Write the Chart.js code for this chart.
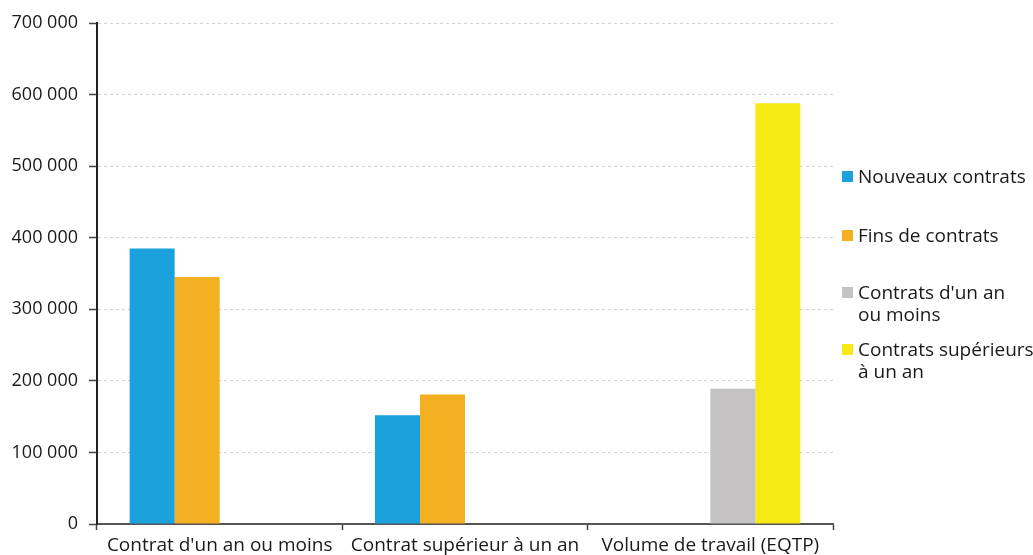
<!DOCTYPE html>
<html>
<head>
<meta charset="utf-8">
<script src="https://cdn.jsdelivr.net/npm/chart.js@4.4.0/dist/chart.umd.min.js"></script>
<style>
  html, body { margin: 0; padding: 0; background: #fff; }
  #wrap { position: relative; width: 1033px; height: 555px; }
  #legend { position: absolute; left: 0; top: 0; width: 1033px; height: 555px; pointer-events: none;
            font-family: "Open Sans", sans-serif; font-size: 19px; color: #1a1a1a; }
  .item { position: absolute; left: 842px; white-space: pre-line; line-height: 22px; }
  .item .box { position: absolute; left: 0; top: 6px; width: 11px; height: 11px; }
  .item .txt { position: absolute; left: 16px; top: 0; width: 190px; }
</style>
</head>
<body>
<div id="wrap">
  <canvas id="grafico" width="1033" height="555"></canvas>
  <div id="legend"></div>
</div>
<script>
// Données
var categories = ["Contrat d'un an ou moins", "Contrat supérieur à un an", "Volume de travail (EQTP)"];
var nouveaux = [385000, 152000, null];
var fins = [345000, 181000, null];
var courts = [null, null, 189000];
var longs = [null, null, 588000];
var seriesLabels = ["Nouveaux contrats", "Fins de contrats", "Contrats d'un an\nou moins", "Contrats supérieurs\nà un an"];
var yTicks = [0, 100000, 200000, 300000, 400000, 500000, 600000, 700000];

var colores = ['#1ba1db', '#f4b020', '#c4c2c3', '#f7e913'];
var series = [nouveaux, fins, courts, longs];

function formatNombre(v) {
    return String(v).replace(/\B(?=(\d{3})+(?!\d))/g, ' ');
}

var fuenteY = { family: '"Open Sans", sans-serif', size: 18 };
var fuenteX = { family: '"Open Sans", sans-serif', size: 19 };

var ctx = document.getElementById('grafico').getContext('2d');
var graf = new Chart(ctx, {
    type: 'bar',
    data: {
        labels: categories,
        datasets: series.map(function (s, i) {
            return {
                label: seriesLabels[i],
                data: s,
                backgroundColor: colores[i],
                borderWidth: 0,
                barPercentage: 1,
                categoryPercentage: 0.734
            };
        })
    },
    options: {
        responsive: false,
        animation: false,
        layout: { padding: { top: 23, right: 200, bottom: 0, left: 0 } },
        plugins: {
            legend: { display: false },
            tooltip: { enabled: false }
        },
        scales: {
            x: {
                afterFit: function (scale) { scale.height = 31; },
                grid: {
                    offset: true,
                    drawOnChartArea: false,
                    drawTicks: true,
                    tickLength: 6,
                    tickColor: '#444',
                    tickWidth: 1.5
                },
                border: { color: '#555', width: 2 },
                ticks: { color: '#1a1a1a', font: fuenteX, padding: 4, maxRotation: 0, autoSkip: false }
            },
            y: {
                min: 0,
                max: 700000,
                afterFit: function (scale) { scale.width = 97; },
                afterBuildTicks: function (scale) {
                    scale.ticks = yTicks.map(function (v) { return { value: v }; });
                },
                grid: {
                    color: '#d2d2d2',
                    lineWidth: 1,
                    drawTicks: true,
                    tickLength: 8,
                    tickColor: '#444',
                    tickWidth: 1.5,
                    tickBorderDash: []
                },
                border: { color: '#222', width: 2, dash: [3, 3] },
                ticks: {
                    color: '#1a1a1a',
                    font: fuenteY,
                    padding: 11,
                    callback: function (v) { return formatNombre(v); }
                }
            }
        }
    }
});

// Légende à droite (HTML)
var legendTops = [165, 224, 281, 338];
var legend = document.getElementById('legend');
seriesLabels.forEach(function (lab, i) {
    var it = document.createElement('div');
    it.className = 'item';
    it.style.top = legendTops[i] + 'px';
    var box = document.createElement('div');
    box.className = 'box';
    box.style.background = colores[i];
    var txt = document.createElement('div');
    txt.className = 'txt';
    txt.textContent = lab;
    it.appendChild(box);
    it.appendChild(txt);
    legend.appendChild(it);
});
</script>
</body>
</html>
